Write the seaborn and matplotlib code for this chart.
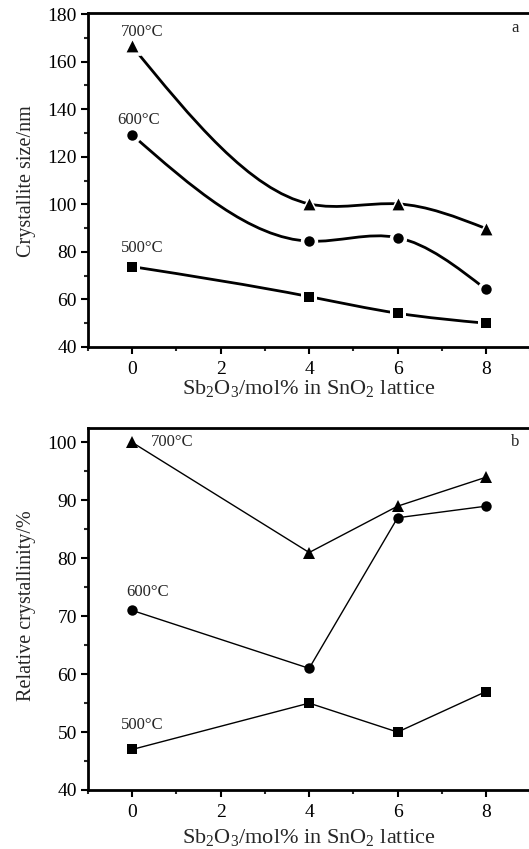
import numpy as np
import pandas as pd
import matplotlib
matplotlib.use("Agg")
import matplotlib.pyplot as plt
from matplotlib.path import Path
from matplotlib.patches import PathPatch
from matplotlib.ticker import MultipleLocator
import seaborn as sns

# data
sb2o3 = [0, 4, 6, 8]
temps = ["500°C", "600°C", "700°C"]
size_500 = [73.8, 61.2, 54.2, 50.0]
size_600 = [129.2, 84.5, 86.0, 64.2]
size_700 = [166.5, 100.2, 100.2, 89.8]
cryst_500 = [47, 55, 50, 57]
cryst_600 = [71, 61, 87, 89]
cryst_700 = [100, 81, 89, 94]

markers = {"500°C": "s", "600°C": "o", "700°C": "^"}
msize = {"s": 6.5, "o": 7.5, "^": 8.5}

sns.set_theme(style="ticks")
plt.rcParams["font.family"] = ["Liberation Serif", "DejaVu Serif"]
plt.rcParams["mathtext.fontset"] = "custom"
plt.rcParams["mathtext.rm"] = "Liberation Serif"
plt.rcParams["mathtext.it"] = "Liberation Serif:italic"


def spline_path(x, y):
    """Natural cubic spline through the points as a Bezier path."""
    x = np.asarray(x, float)
    y = np.asarray(y, float)
    n = len(x)
    h = np.diff(x)
    A = np.zeros((n, n))
    r = np.zeros(n)
    A[0, 0] = A[-1, -1] = 1
    for i in range(1, n - 1):
        A[i, i - 1] = h[i - 1]
        A[i, i] = 2 * (h[i - 1] + h[i])
        A[i, i + 1] = h[i]
        r[i] = 6 * ((y[i + 1] - y[i]) / h[i] - (y[i] - y[i - 1]) / h[i - 1])
    M = np.linalg.solve(A, r)
    # slopes at each knot
    m = np.zeros(n)
    for i in range(n - 1):
        m[i] = (y[i + 1] - y[i]) / h[i] - h[i] * (2 * M[i] + M[i + 1]) / 6
    m[-1] = (y[-1] - y[-2]) / h[-1] + h[-1] * (M[-2] + 2 * M[-1]) / 6
    verts = [(x[0], y[0])]
    codes = [Path.MOVETO]
    for i in range(n - 1):
        verts += [(x[i] + h[i] / 3, y[i] + m[i] * h[i] / 3),
                  (x[i + 1] - h[i] / 3, y[i + 1] - m[i + 1] * h[i] / 3),
                  (x[i + 1], y[i + 1])]
        codes += [Path.CURVE4] * 3
    return Path(verts, codes)


def style_axes(ax, ylim, ymajor, yminor, xlab_y):
    ax.set_xlim(-1, 9)
    ax.set_ylim(*ylim)
    ax.xaxis.set_major_locator(MultipleLocator(2))
    ax.xaxis.set_minor_locator(MultipleLocator(1))
    ax.yaxis.set_major_locator(MultipleLocator(ymajor))
    ax.yaxis.set_minor_locator(MultipleLocator(yminor))
    ax.tick_params(which="major", direction="out", length=5, width=1.5,
                   labelsize=14, colors="black")
    ax.tick_params(which="minor", direction="out", length=3, width=1.5)
    ax.tick_params(axis="x", which="major", pad=5)
    ax.tick_params(axis="y", which="major", pad=3)
    ax.tick_params(top=False, right=False)
    for s in ["left", "bottom", "top"]:
        ax.spines[s].set_linewidth(2)
        ax.spines[s].set_color("black")
    ax.spines["right"].set_visible(False)
    ax.set_xlabel(r"Sb$_2$O$_3$/mol% in SnO$_2$ lattice", fontsize=16,
                  va="center")
    ax.xaxis.set_label_coords(0.5, xlab_y)


fig = plt.figure(figsize=(5.29, 8.49), dpi=100)

# panel a
ax1 = fig.add_axes([0.1664, 0.5913, 0.836, 0.3934])
size = {"500°C": size_500, "600°C": size_600, "700°C": size_700}
for t in temps:
    ax1.add_patch(PathPatch(spline_path(sb2o3, size[t]), fill=False,
                            lw=2, ec="black", zorder=2))
    d = pd.DataFrame({"x": sb2o3, "val": size[t]})
    mk = markers[t]
    # white halo leaves a gap between curve and symbol
    sns.scatterplot(data=d, x="x", y="val", marker=mk, color="white",
                    s=(msize[mk] + 5) ** 2, linewidth=0, legend=False,
                    ax=ax1, zorder=3)
    sns.scatterplot(data=d, x="x", y="val", marker=mk, color="black",
                    s=msize[mk] ** 2, linewidth=0, legend=False,
                    ax=ax1, zorder=4)
style_axes(ax1, (40, 180.5), 20, 10, -0.123)
ax1.set_ylabel("Crystallite size/nm", fontsize=14.5, va="center")
ax1.yaxis.set_label_coords(-0.14, 0.497)
for t, (tx, ty) in zip(temps, [(0.23, 81.7), (0.14, 135.5), (0.23, 172.4)]):
    ax1.text(tx, ty, t, fontsize=12, ha="center", va="center")
ax1.text(0.966, 0.955, "a", transform=ax1.transAxes, fontsize=12,
         ha="center", va="center")

# panel b
ax2 = fig.add_axes([0.1664, 0.0695, 0.836, 0.4264])
cryst = {"500°C": cryst_500, "600°C": cryst_600, "700°C": cryst_700}
df2 = pd.DataFrame([(x, t, v) for t in temps for x, v in zip(sb2o3, cryst[t])],
                   columns=["x", "temp", "val"])
sns.lineplot(data=df2, x="x", y="val", units="temp", estimator=None,
             style="temp", markers=markers, dashes=False, color="black",
             lw=1, markeredgecolor="black", markeredgewidth=0,
             legend=False, ax=ax2)
for ln in ax2.lines:
    mk = ln.get_marker()
    if mk in msize:
        ln.set_markersize(msize[mk])
style_axes(ax2, (40, 102.5), 10, 5, -0.130)
ax2.set_ylabel("Relative crystallinity/%", fontsize=14.5, va="center")
ax2.yaxis.set_label_coords(-0.14, 0.508)
for t, (tx, ty) in zip(temps, [(0.23, 51.2), (0.34, 74.2), (0.9, 100)]):
    ax2.text(tx, ty, t, fontsize=12, ha="center", va="center")
ax2.text(0.966, 0.96, "b", transform=ax2.transAxes, fontsize=12,
         ha="center", va="center")

fig.savefig("out.png", dpi=100)
